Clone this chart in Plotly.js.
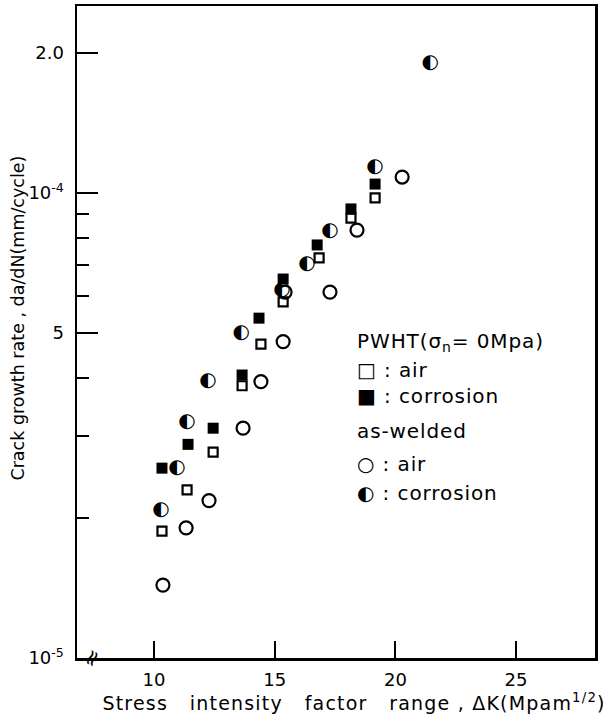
<!DOCTYPE html>
<html><head><meta charset="utf-8">
<script src="https://cdn.plot.ly/plotly-3.0.1.min.js"></script>
<style>html,body{margin:0;padding:0;background:#fff}
.annotation-text{letter-spacing:0.9px}
.xtitle{letter-spacing:1.2px}</style>
</head><body>
<div id="chart" style="width:609px;height:715px"></div>
<script>
// Stress intensity factor range, ΔK (MPa·m^1/2)
const pwhtAirK = [10.33, 11.37, 12.45, 13.65, 14.43, 15.35, 16.84, 18.16, 19.16];
const pwhtAirRate = [1.875e-5, 2.30e-5, 2.77e-5, 3.85e-5, 4.73e-5, 5.83e-5, 7.25e-5, 8.83e-5, 9.76e-5];

const pwhtCorrK = [10.33, 11.41, 12.45, 13.65, 14.35, 15.35, 16.76, 18.16, 19.16];
const pwhtCorrRate = [2.56e-5, 2.88e-5, 3.12e-5, 4.06e-5, 5.38e-5, 6.53e-5, 7.73e-5, 9.24e-5, 1.045e-4];

const awAirK = [10.37, 11.33, 12.28, 13.69, 14.43, 15.35, 15.43, 17.29, 18.41, 20.28];
const awAirRate = [1.435e-5, 1.905e-5, 2.18e-5, 3.12e-5, 3.93e-5, 4.79e-5, 6.12e-5, 6.12e-5, 8.32e-5, 1.082e-4];

const awCorrK = [10.29, 10.95, 11.37, 12.24, 13.61, 15.30, 16.34, 17.29, 19.16, 21.44];
const awCorrRate = [2.08e-5, 2.56e-5, 3.22e-5, 3.94e-5, 5.00e-5, 6.18e-5, 7.04e-5, 8.28e-5, 1.137e-4, 1.906e-4];

const xTickVals = [10, 15, 20, 25];
const xTickText = ['10', '15', '20', '25'];
const yTickVals = [1e-5, 5e-5, 1e-4, 2e-4];
const yTickText = ['10<sup>-5</sup>', '5', '10<sup>-4</sup>', '2.0'];
const yMinorVals = [2e-5, 3e-5, 4e-5, 6e-5, 7e-5, 8e-5, 9e-5];

const legendLines = [
  'PWHT(σ<sub>n</sub>= 0Mpa)',
  '□ : air',
  '■ : corrosion',
  'as-welded',
  '○ : air',
  '◐ : corrosion'
];

const FONT = 'DejaVu Sans, sans-serif';
const XRANGE = [6.81, 28.27];
const YRANGE = [-5, -3.598];
const NB = '\u00a0';
const ZW = '\u200B';

const traces = [
  {x: pwhtAirK, y: pwhtAirRate, mode: 'markers', name: 'PWHT air',
   marker: {symbol: 'square-open', size: 9, color: '#000', line: {width: 2.2, color: '#000'}}},
  {x: pwhtCorrK, y: pwhtCorrRate, mode: 'markers', name: 'PWHT corrosion',
   marker: {symbol: 'square', size: 11, color: '#000'}},
  {x: awAirK, y: awAirRate, mode: 'markers', name: 'as-welded air',
   marker: {symbol: 'circle-open', size: 13, color: '#000', line: {width: 2.2, color: '#000'}}},
  {x: awCorrK, y: awCorrRate, mode: 'text', name: 'as-welded corrosion',
   text: awCorrK.map(() => '◐'), textposition: 'middle center',
   textfont: {family: FONT, size: 20, color: '#000'}},
  {x: [], y: [], yaxis: 'y2', mode: 'markers', showlegend: false},
  {x: [], y: [], yaxis: 'y3', mode: 'markers', showlegend: false},
  {x: [], y: [], xaxis: 'x2', mode: 'markers', showlegend: false}
];

const legendY = [342, 370, 396, 431, 464, 493];
const annotations = legendLines.map((t, i) => ({
  xref: 'paper', yref: 'paper', x: (355 - 77) / 518, y: (658 - legendY[i]) / 652,
  xanchor: 'left', yanchor: 'middle', text: t, showarrow: false,
  font: {family: FONT, size: 20, color: '#000'}
}));
// axis break mark
annotations.push({xref: 'paper', yref: 'paper', x: 14 / 518, y: 0, xanchor: 'center', yanchor: 'middle',
  text: '≈', textangle: -65, showarrow: false, font: {family: FONT, size: 22, color: '#000'}});

const tickOnly = {showgrid: false, zeroline: false, showline: false, showticklabels: false,
  tickcolor: '#000', tickwidth: 2, ticks: 'inside', tickmode: 'array'};

const layout = {
  width: 609, height: 715,
  margin: {l: 77, r: 14, t: 6, b: 57},
  paper_bgcolor: '#fff', plot_bgcolor: '#fff',
  showlegend: false,
  font: {family: FONT, color: '#000'},
  xaxis: {
    range: XRANGE, showgrid: false, zeroline: false,
    showline: true, linewidth: 2.5, linecolor: '#000', mirror: true,
    ticks: '', tickmode: 'array', tickvals: xTickVals, ticktext: xTickText,
    ticklabelstandoff: 4,
    tickfont: {family: FONT, size: 18, color: '#000'},
    title: {text: ZW + NB.repeat(5) + 'Stress' + NB + NB + ' intensity' + NB + NB + ' factor' + NB + NB + ' range , ΔK(Mpam<sup>1/2</sup>)',
            font: {family: FONT, size: 19, color: '#000'}, standoff: 2}
  },
  xaxis2: Object.assign({}, tickOnly, {range: XRANGE, overlaying: 'x', anchor: 'y', side: 'bottom',
    tickvals: xTickVals, ticklen: 17}),
  yaxis: {
    type: 'log', range: YRANGE, showgrid: false, zeroline: false,
    showline: true, linewidth: 2.5, linecolor: '#000', mirror: true,
    ticks: '', tickmode: 'array', tickvals: yTickVals, ticktext: yTickText,
    ticklabelstandoff: 7,
    tickfont: {family: FONT, size: 18, color: '#000'},
    title: {text: ZW + NB.repeat(5) + 'Crack growth rate , da/dN(mm/cycle)', font: {family: FONT, size: 17.5, color: '#000'}, standoff: 0}
  },
  yaxis2: Object.assign({}, tickOnly, {type: 'log', range: YRANGE, overlaying: 'y', side: 'left', anchor: 'x',
    tickvals: yMinorVals, ticklen: 12}),
  yaxis3: Object.assign({}, tickOnly, {type: 'log', range: YRANGE, overlaying: 'y', side: 'left', anchor: 'x',
    tickvals: yTickVals, ticklen: 21}),
  annotations: annotations
};

Plotly.newPlot('chart', traces, layout, {displayModeBar: false, staticPlot: true});
</script>
</body></html>
